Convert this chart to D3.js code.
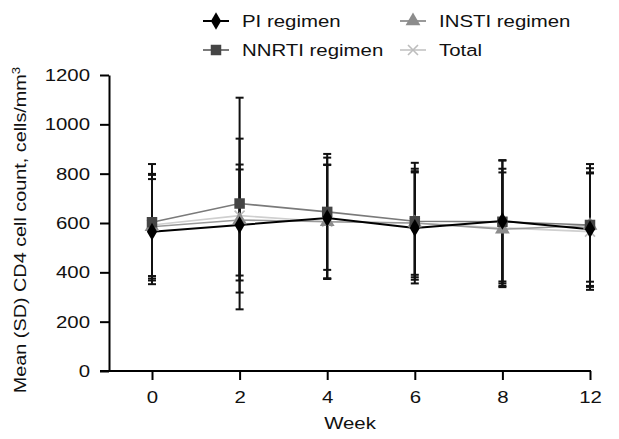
<!DOCTYPE html>
<html>
<head>
<meta charset="utf-8">
<script src="https://cdn.jsdelivr.net/npm/d3@7"></script>
<style>
  body { margin: 0; background: #fff; }
  text { font-family: "Liberation Sans", Arial, sans-serif; }
</style>
</head>
<body>
<svg id="chart" width="619" height="439"></svg>
<script>
var weeks = ['0', '2', '4', '6', '8', '12'];
var yTicks = [0, 200, 400, 600, 800, 1000, 1200];

var piMean = [565, 592, 620, 580, 608, 575];
var piSD = [213, 225, 245, 225, 245, 230];
var nnrtiMean = [603, 679, 645, 607, 605, 592];
var nnrtiSD = [236, 429, 235, 237, 250, 230];
var instiMean = [585, 612, 605, 600, 575, 590];
var instiSD = [210, 225, 230, 210, 230, 249];
var totalMean = [592, 630, 605, 600, 580, 565];
var totalSD = [207, 312, 232, 220, 240, 236];

var series = [
  {name: 'Total', mean: totalMean, sd: totalSD, line: '#cfcfcf', fill: '#bdbdbd', sym: 'x'},
  {name: 'INSTI regimen', mean: instiMean, sd: instiSD, line: '#9a9a9a', fill: '#8c8c8c', sym: d3.symbolTriangle},
  {name: 'NNRTI regimen', mean: nnrtiMean, sd: nnrtiSD, line: '#7a7a7a', fill: '#454545', sym: d3.symbolSquare},
  {name: 'PI regimen', mean: piMean, sd: piSD, line: '#000', fill: '#000', sym: d3.symbolDiamond}
];

var sx = 1.2; // wide lettering of the original

var svg = d3.select('#chart');

var x = d3.scalePoint().domain(weeks).range([152, 590]);
var y = d3.scaleLinear().domain([0, 1200]).range([371, 75]);

// axes
var xAxis = svg.append('g')
    .attr('transform', 'translate(0,371)')
    .call(d3.axisBottom(x).tickSize(9).tickSizeOuter(0));
xAxis.select('.domain').remove();
xAxis.append('line').attr('x1', 100).attr('x2', 591).attr('stroke', '#000').attr('stroke-width', 2);
xAxis.selectAll('.tick line').attr('stroke-width', 2);
xAxis.selectAll('.tick text').attr('dy', '1.2em').attr('transform', `scale(${sx},1)`)
    .style('font-size', '17px').attr('fill', '#111');

var yAxis = svg.append('g')
    .attr('transform', 'translate(109,0)')
    .call(d3.axisLeft(y).tickValues(yTicks).tickFormat(d3.format('d')).tickSize(9).tickSizeOuter(0));
yAxis.select('.domain').attr('stroke-width', 2);
yAxis.selectAll('.tick line').attr('stroke-width', 2);
yAxis.selectAll('.tick text').attr('x', -19 / sx).attr('transform', `scale(${sx},1)`)
    .style('font-size', '17px').attr('fill', '#111');

svg.append('text')
    .attr('transform', `translate(350,429) scale(${sx},1)`)
    .attr('text-anchor', 'middle')
    .style('font-size', '17px').attr('fill', '#111')
    .text('Week');

var yl = svg.append('text')
    .attr('transform', `translate(26,230) rotate(-90) scale(${sx},1)`)
    .attr('text-anchor', 'middle')
    .style('font-size', '16.5px').attr('fill', '#111');
yl.append('tspan').text('Mean (SD) CD4 cell count, cells/mm');
yl.append('tspan').attr('dy', -6).style('font-size', '11px').text('3');

// error bars
var eb = svg.append('g').attr('stroke', '#111').attr('stroke-width', 2);
series.forEach(function (s) {
  weeks.forEach(function (w, i) {
    var hi = y(s.mean[i] + s.sd[i]), lo = y(s.mean[i] - s.sd[i]), cx = x(w);
    eb.append('line').attr('x1', cx).attr('x2', cx).attr('y1', hi).attr('y2', lo);
    eb.append('line').attr('x1', cx - 4).attr('x2', cx + 4).attr('y1', hi).attr('y2', hi);
    eb.append('line').attr('x1', cx - 4).attr('x2', cx + 4).attr('y1', lo).attr('y2', lo);
  });
});

function drawMarker(g, s, cx, cy) {
  if (s.sym === 'x') {
    var r = 5;
    g.append('path')
      .attr('d', `M${cx - r},${cy - r}L${cx + r},${cy + r}M${cx - r},${cy + r}L${cx + r},${cy - r}`)
      .attr('stroke', s.fill).attr('stroke-width', 1.6).attr('fill', 'none');
  } else {
    var size = s.sym === d3.symbolSquare ? 110 : s.sym === d3.symbolTriangle ? 95 : 90;
    g.append('path')
      .attr('d', d3.symbol().type(s.sym).size(size)())
      .attr('transform', `translate(${cx},${cy})`)
      .attr('fill', s.fill);
  }
}

var line = d3.line().x((d, i) => x(weeks[i])).y(d => y(d));
series.forEach(function (s) {
  svg.append('path')
    .datum(s.mean)
    .attr('fill', 'none')
    .attr('stroke', s.line)
    .attr('stroke-width', s.name === 'PI regimen' ? 2 : 1.6)
    .attr('d', line);
});
series.forEach(function (s) {
  var g = svg.append('g');
  s.mean.forEach(function (m, i) { drawMarker(g, s, x(weeks[i]), y(m)); });
});

// legend
var legendItems = [
  {s: series[3], lx: 203, ly: 21},
  {s: series[2], lx: 203, ly: 50},
  {s: series[1], lx: 400, ly: 21},
  {s: series[0], lx: 400, ly: 50}
];
legendItems.forEach(function (d) {
  var g = svg.append('g');
  g.append('line').attr('x1', d.lx).attr('x2', d.lx + 26).attr('y1', d.ly).attr('y2', d.ly)
    .attr('stroke', d.s.line).attr('stroke-width', 2);
  drawMarker(g, d.s, d.lx + 13, d.ly);
  g.append('text').attr('transform', `translate(${d.lx + 39},${d.ly}) scale(${sx},1)`)
    .attr('dy', '0.35em')
    .style('font-size', '17px').attr('fill', '#111').text(d.s.name);
});
</script>
</body>
</html>
